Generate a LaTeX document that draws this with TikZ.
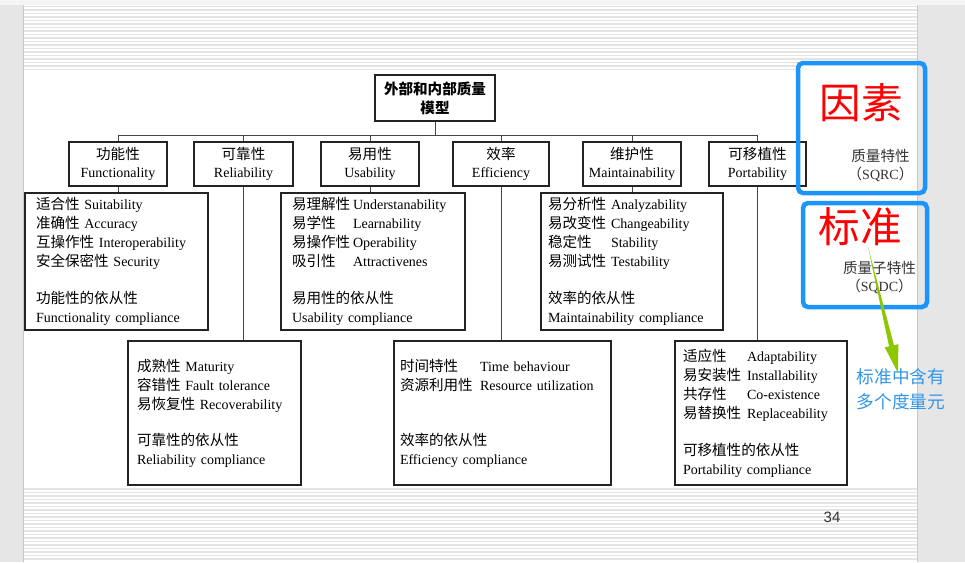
\documentclass[tikz,border=0pt]{standalone}
\usepackage{fontspec}
\setmainfont{Liberation Serif}
\newfontfamily\cjk[Scale=1.04]{Noto Sans CJK SC}
\newfontfamily\uisans{Liberation Sans}
\usetikzlibrary{calc,positioning}
\newcommand\zh[1]{{\cjk #1}}
\newcommand\zhw[2]{\makebox[#1][l]{\cjk #2}}
\definecolor{pagegray}{RGB}{230,230,230}
\definecolor{topgray}{RGB}{245,245,245}
\definecolor{bordergray}{RGB}{200,200,200}
\definecolor{stripegray}{RGB}{228,228,228}
\definecolor{boxline}{RGB}{35,35,35}
\definecolor{linkgray}{RGB}{70,70,70}
\definecolor{tagblue}{RGB}{28,148,250}
\definecolor{tagred}{RGB}{255,0,0}
\definecolor{notblue}{RGB}{50,150,230}
\definecolor{arrowgreen}{RGB}{140,200,0}
\tikzset{model/.style={draw=boxline,line width=1.7pt,align=center,inner sep=0pt,
                       font=\bfseries\fontsize{14pt}{19pt}\selectfont},
         char/.style={draw=boxline,line width=1.7pt,minimum height=44pt,align=center,
                      inner sep=0pt,font=\fontsize{14pt}{18pt}\selectfont},
         subchar/.style={draw=boxline,line width=1.3pt,align=left,inner ysep=0pt,
                         font=\fontsize{14pt}{19pt}\selectfont},
         link/.style={draw=linkgray,line width=0.9pt},
         stripe/.style={draw=stripegray,line width=1.3pt},
         tag/.style={draw=tagblue,line width=4.5pt,rounded corners=5pt,inner sep=0pt},
         bigred/.style={text=tagred,inner sep=0pt,font=\cjk\fontsize{40pt}{44pt}\selectfont},
         taginfo/.style={text=black!80,align=center,inner sep=0pt,
                         font=\fontsize{14pt}{18pt}\selectfont}}

\begin{document}
\begin{tikzpicture}[x=1pt,y=-1pt]
        \useasboundingbox (0,0) rectangle (965,562);
        %
        % slide background
        \fill[pagegray] (0,0) rectangle (965,562);
        \fill[topgray] (0,0) rectangle (965,5);
        \fill[white] (24,5) rectangle (917,562);
        \foreach \Y in {6.5,10,...,72}
            {\draw[stripe] (24,\Y) -- (917,\Y);}
        \foreach \Y in {489,492.5,...,562}
            {\draw[stripe] (24,\Y) -- (917,\Y);}
        \draw[bordergray,line width=1.5pt] (23.5,5) -- (23.5,562);
        \draw[bordergray,line width=1.5pt] (917.5,5) -- (917.5,562);
        \fill[white] (800,65) rectangle (917,74);
        %
        % model tree
        \node[model,minimum width=120pt,minimum height=46pt] (top) at (435,98)
            {\zh{外部和内部质量}\\\zh{模型}};
        \node[char,minimum width=98pt] (fun) at (118,164) {\zh{功能性}\\Functionality};
        \node[char,minimum width=99pt] (rel) at (243.5,164) {\zh{可靠性}\\Reliability};
        \node[char,minimum width=98pt] (usa) at (370,164) {\zh{易用性}\\Usability};
        \node[char,minimum width=96pt] (eff) at (501,164) {\zh{效率}\\Efficiency};
        \node[char,minimum width=98pt] (mai) at (632,164) {\zh{维护性}\\Maintainability};
        \node[char,minimum width=97pt] (por) at (757.5,164) {\zh{可移植性}\\Portability};
        \coordinate (bus) at (0,135);
        %
        \node[subchar,text width=161pt,inner xsep=11pt,minimum height=137pt] (fund) at (116.5,261.5)
            {\zh{适合性}~Suitability\\
             \zh{准确性}~Accuracy\\
             \zh{互操作性}~Interoperability\\
             \zh{安全保密性}~Security\\[18pt]
             \zh{功能性的依从性}\\
             Functionality~compliance};
        \node[subchar,text width=162pt,inner xsep=11pt,minimum height=137pt] (usad) at (373,261.5)
            {\zhw{61pt}{易理解性}Understanability\\
             \zhw{61pt}{易学性}Learnability\\
             \zhw{61pt}{易操作性}Operability\\
             \zhw{61pt}{吸引性}Attractivenes\\[18pt]
             \zh{易用性的依从性}\\
             Usability~compliance};
        \node[subchar,text width=168pt,inner xsep=7pt,minimum height=137pt] (maid) at (632,261.5)
            {\zhw{63pt}{易分析性}Analyzability\\
             \zhw{63pt}{易改变性}Changeability\\
             \zhw{63pt}{稳定性}Stability\\
             \zhw{63pt}{易测试性}Testability\\[18pt]
             \zh{效率的依从性}\\
             Maintainability~compliance};
        \node[subchar,text width=155pt,inner xsep=9pt,minimum height=144pt] (reld) at (214.5,413)
            {\zh{成熟性}~Maturity\\
             \zh{容错性}~Fault~tolerance\\
             \zh{易恢复性}~Recoverability\\[17pt]
             \zh{可靠性的依从性}\\
             Reliability~compliance};
        \node[subchar,text width=205pt,inner xsep=6pt,minimum height=144pt] (effd) at (502.5,413)
            {\zhw{80pt}{时间特性}Time~behaviour\\
             \zhw{80pt}{资源利用性}Resource~utilization\\[36pt]
             \zh{效率的依从性}\\
             Efficiency~compliance};
        \node[subchar,text width=156pt,inner xsep=8pt,minimum height=144pt] (pord) at (761,413)
            {\zhw{64pt}{适应性}Adaptability\\
             \zhw{64pt}{易安装性}Installability\\
             \zhw{64pt}{共存性}Co-existence\\
             \zhw{64pt}{易替换性}Replaceability\\[18pt]
             \zh{可移植性的依从性}\\
             Portability~compliance};
        %
        % connectors
        \draw[link] (top.south) -- (top.south |- bus);
        \draw[link] (fun.north |- bus) -- (por.north |- bus);
        \foreach \P in {fun,rel,usa,eff,mai,por}
            {\draw[link] (\P.north) -- (\P.north |- bus);}
        \foreach \P/\C in {fun/fund,rel/reld,usa/usad,eff/effd,mai/maid,por/pord}
            {\draw[link] (\P.south) -- (\P.south |- \C.north);}
        %
        % notes on the right
        \node[tag,minimum width=127pt,minimum height=130pt] (sqrc) at (861.5,128) {};
        \node[tag,minimum width=124pt,minimum height=104pt] (sqdc) at (865,255) {};
        \node[bigred] (factor) at (861,103) {因素};
        \node[bigred] (standard) at (860,227) {标准};
        \node[taginfo] (sqrcinfo) at (880.5,166) {\zh{质量特性}\\\zh{（}SQRC\zh{）}};
        \node[taginfo] (sqdcinfo) at (879.5,278) {\zh{质量子特性}\\\zh{（}SQDC\zh{）}};
        \node[text=notblue,align=left,inner sep=0pt,font=\cjk\fontsize{17pt}{25pt}\selectfont]
            (note) at (901,389.5) {标准中含有\\多个度量元};
        \coordinate (gs) at (868,247);
        \coordinate (gt) at (898,373);
        \coordinate (gb) at ($(gt)!28pt!(gs)$);
        \fill[arrowgreen] (gs) -- ($(gb)!2.5pt!90:(gt)$) -- ($(gb)!7pt!90:(gt)$) -- (gt)
            -- ($(gb)!7pt!-90:(gt)$) -- ($(gb)!2.5pt!-90:(gt)$) -- cycle;
        %
        \node[text=black!80,font=\uisans\fontsize{15pt}{18pt}\selectfont] (page) at (832,517) {34};
    \end{tikzpicture}
\end{document}
